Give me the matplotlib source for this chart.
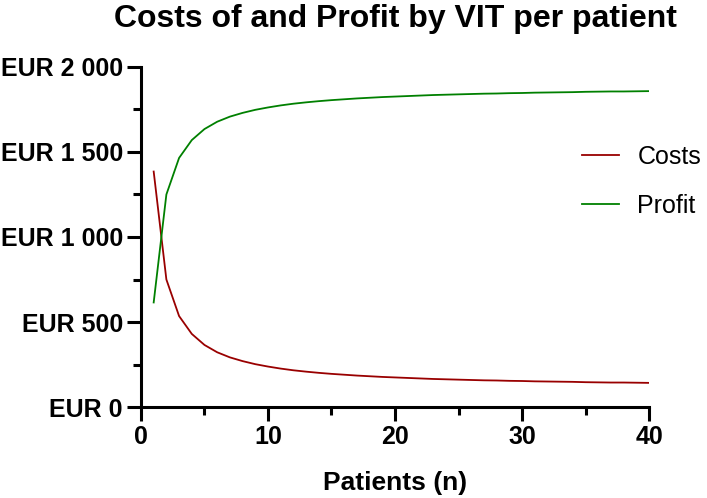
import matplotlib
matplotlib.use('Agg')
import matplotlib.pyplot as plt
from matplotlib.ticker import MultipleLocator

plt.rcParams['font.family'] = ['Liberation Sans', 'DejaVu Sans']

# patients 1..40
patients = list(range(1, 41))
costs = [1385, 750, 535, 430, 365, 322, 292, 270, 252, 238,
         226, 216, 208, 201, 195, 190, 185, 181, 177, 174,
         171, 168, 165, 163, 161, 159, 157, 156, 154, 153,
         151, 150, 149, 148, 146, 145, 144, 144, 143, 142]
profit = [615, 1250, 1465, 1570, 1635, 1678, 1708, 1730, 1748, 1762,
          1774, 1784, 1792, 1799, 1805, 1810, 1815, 1819, 1823, 1826,
          1829, 1832, 1835, 1837, 1839, 1841, 1843, 1844, 1846, 1847,
          1849, 1850, 1851, 1852, 1854, 1855, 1856, 1856, 1857, 1858]
y_ticks = [0, 500, 1000, 1500, 2000]
y_labels = ['EUR 0', 'EUR 500', 'EUR 1 000', 'EUR 1 500', 'EUR 2 000']

fig = plt.figure(figsize=(7.07, 4.98), dpi=100)
ax = fig.add_axes([0.1994, 0.1827, 0.7186, 0.6828])

ax.plot(patients, costs, color='#990000', lw=1.3, label='Costs')
ax.plot(patients, profit, color='#008000', lw=1.3, label='Profit')

ax.set_xlim(0, 40)
ax.set_ylim(0, 2000)
ax.set_yticks(y_ticks)
ax.set_yticklabels(y_labels)
ax.xaxis.set_major_locator(MultipleLocator(10))
ax.xaxis.set_minor_locator(MultipleLocator(5))
ax.yaxis.set_minor_locator(MultipleLocator(250))

for s in ['top', 'right']:
    ax.spines[s].set_visible(False)
for s in ['left', 'bottom']:
    ax.spines[s].set_linewidth(2.2)
ax.tick_params(which='major', length=10, width=2.2, labelsize=18, pad=3)
ax.tick_params(which='minor', length=5.5, width=2.2)
for lab in ax.get_xticklabels() + ax.get_yticklabels():
    lab.set_fontweight('bold')

ax.set_xlabel('Patients (n)', fontsize=19, fontweight='bold', labelpad=16)
fig.text(0.56, 0.962, 'Costs of and Profit by VIT per patient', fontsize=23,
         fontweight='bold', ha='center', va='center')

ax.legend(loc='center left', bbox_to_anchor=(0.791, 0.6365),
          bbox_transform=fig.transFigure, frameon=False,
          fontsize=18, handlelength=1.48, handletextpad=0.75, labelspacing=1.0)

fig.savefig('out.png', dpi=100)
